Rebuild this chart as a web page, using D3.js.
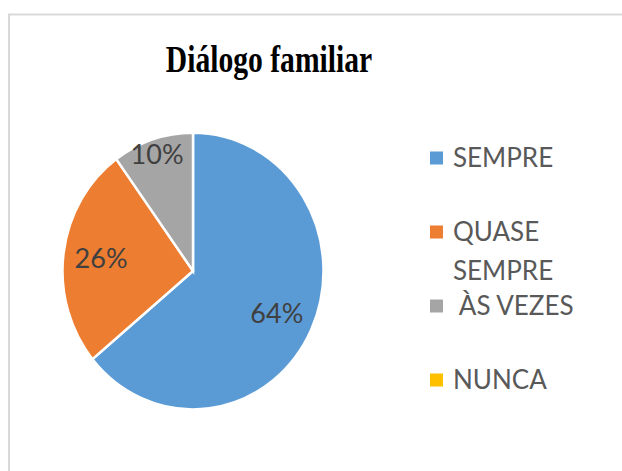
<!DOCTYPE html>
<html>
<head>
<meta charset="utf-8">
<script src="https://cdn.jsdelivr.net/npm/d3@7"></script>
<style>
  body { margin: 0; background: #fff; }
</style>
</head>
<body>
<div id="chart"></div>
<script>
var categories = ["SEMPRE", "QUASE SEMPRE", " ÀS VEZES", "NUNCA"];
var values = [64, 26, 10, 0];
var colors = ["#5B9BD5", "#ED7D31", "#A5A5A5", "#FFC000"];

var w = 622, h = 471;
var cx = 193, cy = 271;
var radius = 130.5;
var stretch = 1.06; // the picture is a bit taller than wide

var dataset = categories.map(function(c, i){ return {label: c, value: values[i]}; });

var svg = d3.select("#chart")
  .append("svg")
  .attr("width", w)
  .attr("height", h);

// chart frame
svg.append("line")
  .attr("x1", 8).attr("y1", 14.5).attr("x2", w).attr("y2", 14.5)
  .attr("stroke", "#d9d9d9").attr("stroke-width", 2);
svg.append("line")
  .attr("x1", 9).attr("y1", 14).attr("x2", 9).attr("y2", h)
  .attr("stroke", "#d9d9d9").attr("stroke-width", 2);

// title is narrow and tall in the original
svg.append("text")
  .attr("transform", "translate(269,72) scale(0.8,1)")
  .attr("text-anchor", "middle")
  .style("font-family", "'Liberation Serif', 'Times New Roman', serif")
  .style("font-weight", "bold")
  .style("font-size", "37px")
  .style("fill", "#000")
  .text("Diálogo familiar");

var color = d3.scaleOrdinal().domain(categories).range(colors);

var pie = d3.pie()
  .value(function(d){ return d.value; })
  .sort(null);

var arc = d3.arc()
  .innerRadius(0)
  .outerRadius(radius);

var g = svg.append("g")
  .attr("transform", "translate(" + cx + "," + cy + ") scale(1," + stretch + ")");

g.selectAll("path")
  .data(pie(dataset).filter(function(d){ return d.data.value > 0; }))
  .enter()
  .append("path")
  .attr("d", arc)
  .attr("fill", function(d){ return color(d.data.label); })
  .attr("stroke", "#fff")
  .attr("stroke-width", 2.5)
  .attr("vector-effect", "non-scaling-stroke");

// labels, small slices pushed further out
svg.selectAll(".pct")
  .data(pie(dataset).filter(function(d){ return d.data.value > 0; }))
  .enter()
  .append("text")
  .attr("class", "pct")
  .attr("transform", function(d){
    var r = d.data.value < 15 ? radius * 0.89 : radius * 0.71;
    var c = d3.arc().innerRadius(r).outerRadius(r).centroid(d);
    return "translate(" + (cx + c[0]) + "," + (cy + c[1] * stretch) + ")";
  })
  .attr("dy", "0.36em")
  .attr("text-anchor", "middle")
  .style("font-family", "Lato, 'Open Sans', sans-serif")
  .style("font-size", "27px")
  .style("fill", "#404040")
  .text(function(d){ return d.data.value + "%"; });

// legend
var legendY = [158, 232, 306, 380];
var legend = svg.selectAll(".legend")
  .data(categories)
  .enter()
  .append("g")
  .attr("class", "legend")
  .attr("transform", function(d, i){ return "translate(430," + legendY[i] + ")"; });

legend.append("rect")
  .attr("x", 0)
  .attr("y", -6.5)
  .attr("width", 13)
  .attr("height", 13)
  .style("fill", color);

legend.append("text")
  .attr("x", 23)
  .attr("y", 9)
  .style("font-family", "Lato, 'Open Sans', sans-serif")
  .style("font-size", "26px")
  .style("fill", "#595959")
  .style("white-space", "pre")
  .each(function(d){
    var parts = d === "QUASE SEMPRE" ? ["QUASE", "SEMPRE"] : [d];
    var t = d3.select(this);
    parts.forEach(function(p, k){
      t.append("tspan")
        .attr("x", 23)
        .attr("dy", k === 0 ? 0 : 39)
        .text(p);
    });
  });
</script>
</body>
</html>
